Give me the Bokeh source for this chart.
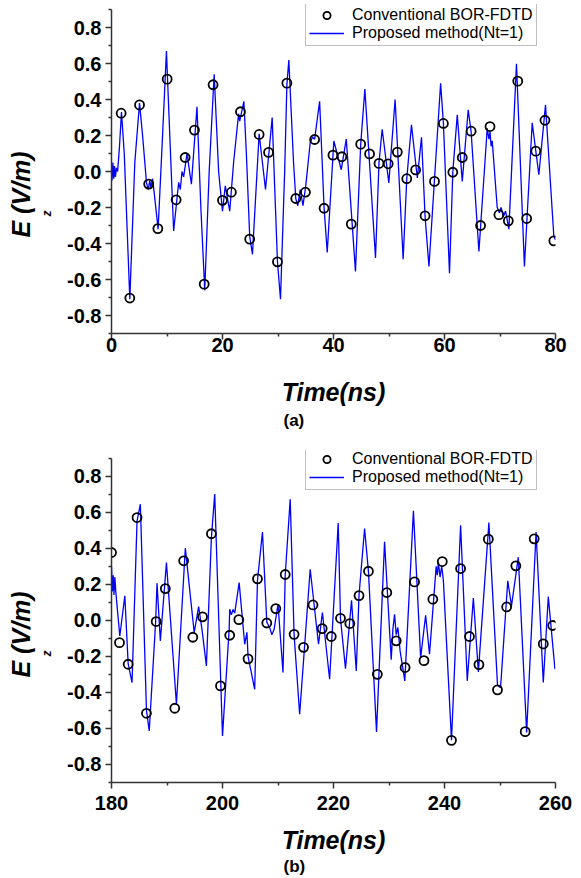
from bokeh.plotting import figure
from bokeh.models import Range1d, FixedTicker, Legend, LegendItem, Title
from bokeh.layouts import column
from bokeh.embed import file_html
from bokeh.resources import INLINE

# ---------------- Panel (a) data ----------------
a_circle_t = [1.74, 3.3, 5.05, 6.7, 8.35, 10.03, 11.65, 13.27, 14.95, 16.7, 18.3, 20.0,
              21.6, 23.24, 24.9, 26.6, 28.3, 29.9, 31.6, 33.2, 34.95, 36.6, 38.3, 39.9,
              41.5, 43.2, 44.9, 46.5, 48.2, 49.85, 51.5, 53.2, 54.8, 56.5, 58.2, 59.8,
              61.5, 63.2, 64.8, 66.5, 68.2, 69.8, 71.5, 73.2, 74.8, 76.45, 78.1, 79.7]
a_circle_y = [0.324, -0.703, 0.37, -0.07, -0.317, 0.513, -0.157, 0.078, 0.23, -0.626, 0.482, -0.16,
              -0.115, 0.332, -0.376, 0.206, 0.106, -0.502, 0.491, -0.15, -0.115, 0.178, -0.204, 0.091,
              0.082, -0.292, 0.152, 0.098, 0.045, 0.043, 0.108, -0.04, 0.009, -0.246, -0.055, 0.267,
              -0.004, 0.078, 0.224, -0.3, 0.25, -0.24, -0.274, 0.502, -0.261, 0.113, 0.285, -0.385]

a_line_t = [0.0, 0.1, 0.25, 0.4, 0.55, 0.7, 0.9, 1.1, 1.4, 1.8, 2.3, 3.3, 4.2, 5.05, 5.6,
            6.3, 6.6, 6.9, 7.1, 7.4, 7.7, 8.4, 9.2, 9.9, 10.5, 11.2, 11.8, 12.1, 12.4, 12.7,
            13.0, 13.6, 14.4, 15.4, 16.1, 16.8, 17.6, 18.5, 19.3, 20.0, 20.5, 21.3, 22.0,
            22.9, 23.1, 23.85, 24.3, 24.9, 25.4, 26.6, 27.75, 28.95, 29.3, 29.9, 30.45, 31.2,
            31.6, 31.95, 32.8, 33.2, 33.57, 34.0, 34.5, 35.0, 35.8, 36.2, 36.6, 37.5, 38.3,
            38.87, 40.06, 41.4, 42.3, 43.96, 44.9, 45.65, 47.57, 48.2, 48.77, 49.97, 51.1,
            52.55, 53.2, 54.05, 55.1, 55.86, 56.5, 57.2, 59.3, 59.8, 60.9, 61.5, 62.3, 63.2,
            64.27, 64.8, 66.2, 67.7, 68.0, 68.2, 68.4, 68.6, 69.5, 69.9, 70.2, 70.6, 71.0,
            71.6, 72.97, 74.4, 75.8, 77.0, 78.2, 79.7, 80.0]
a_line_y = [0.02, -0.05, 0.05, -0.04, 0.03, -0.03, 0.02, 0.0, 0.12, 0.33, 0.1, -0.71, 0.05, 0.38, 0.2,
            -0.06, -0.1, -0.05, -0.09, -0.04, -0.12, -0.32, 0.2, 0.67, 0.2, -0.33, -0.15, -0.06, -0.1, 0.0,
            -0.03, 0.1, -0.07, 0.36, -0.2, -0.66, 0.0, 0.54, 0.0, -0.22, -0.08, -0.22, 0.05,
            0.32, 0.28, 0.39, 0.1, -0.36, -0.46, 0.21, -0.1, 0.3, 0.0, -0.5, -0.71, 0.0,
            0.48, 0.62, 0.05, -0.15, -0.19, -0.1, -0.19, -0.08, 0.16, 0.19, 0.18, 0.39, -0.2,
            -0.45, 0.17, 0.01, 0.18, -0.555, 0.15, 0.458, -0.48, 0.05, 0.235, -0.064, 0.4,
            -0.487, -0.04, 0.26, -0.036, 0.19, -0.25, -0.527, 0.49, 0.27, -0.565, 0.0, 0.315, -0.055,
            0.343, 0.22, -0.444, 0.24, 0.18, 0.22, 0.14, 0.17, -0.2, -0.23, -0.2, -0.25, -0.22,
            -0.32, 0.598, -0.527, 0.27, -0.018, 0.37, -0.36, -0.38]

# ---------------- Panel (b) data ----------------
b_circle_t = [180.0, 181.44, 183.0, 184.6, 186.3, 188.05, 189.7, 191.4, 193.0, 194.65, 196.4, 198.0,
              199.64, 201.3, 202.94, 204.6, 206.3, 207.98, 209.6, 211.3, 212.9, 214.6, 216.3, 217.96,
              219.6, 221.26, 222.94, 224.6, 226.3, 227.9, 229.6, 231.3, 232.9, 234.6, 236.3, 237.9,
              239.6, 241.26, 242.9, 244.5, 246.2, 247.9, 249.55, 251.2, 252.85, 254.54, 256.16, 257.8,
              259.5]
b_circle_y = [0.376, -0.124, -0.244, 0.57, -0.516, -0.007, 0.176, -0.488, 0.33, -0.094, 0.019, 0.48,
              -0.364, -0.083, 0.004, -0.214, 0.23, -0.015, 0.065, 0.254, -0.078, -0.15, 0.085, -0.046,
              -0.09, 0.011, -0.018, 0.137, 0.272, -0.3, 0.154, -0.114, -0.262, 0.213, -0.224, 0.117,
              0.326, -0.666, 0.287, -0.09, -0.246, 0.45, -0.386, 0.074, 0.302, -0.618, 0.452, -0.131,
              -0.029]

b_line_t = [180.0, 180.15, 180.3, 180.45, 180.6, 180.8, 181.0, 181.5, 182.4, 183.0, 183.7, 184.6, 185.2,
            186.3, 186.8, 187.95, 188.2, 188.8, 189.9, 191.7, 193.3, 194.9, 195.7, 196.3, 197.1,
            198.0, 198.6, 200.0, 201.2, 201.3, 201.6, 201.9, 202.2, 203.0, 204.0, 204.4, 204.6, 205.8,
            206.3, 207.2, 207.98, 208.5, 208.9, 209.3, 210.0, 210.9, 211.3, 212.2, 212.9, 213.9,
            215.8, 217.3, 218.0, 219.3, 220.85, 221.26, 222.16, 223.25, 224.1, 224.6, 225.6, 226.3,
            227.75, 229.2, 230.4, 230.7, 231.0, 231.3, 231.6, 232.0, 232.85, 234.4, 235.7, 236.6,
            237.3, 238.5, 238.7, 238.9, 239.2, 239.5, 239.8, 241.26, 242.9, 244.1, 245.2, 246.1,
            248.0, 249.55, 250.1, 251.4, 252.07, 253.3, 254.8, 256.5, 257.8, 258.7, 259.9]
b_line_y = [0.30, 0.16, 0.25, 0.14, 0.24, 0.15, 0.08, -0.087, 0.136, -0.24, -0.346, 0.55, 0.644,
            -0.5, -0.614, -0.01, 0.206, -0.114, 0.32, -0.466, 0.4, -0.068, 0.076, -0.05, -0.253,
            0.46, 0.7, -0.642, -0.05, 0.061, 0.03, 0.06, 0.04, 0.209, -0.133, -0.067, -0.2, -0.383,
            0.22, 0.49, -0.01, -0.041, -0.08, -0.05, 0.089, -0.29, 0.25, 0.672, -0.08, -0.521,
            0.283, -0.133, 0.043, -0.327, 0.54, 0.01, -0.268, 0.111, -0.281, 0.14, 0.509, 0.27,
            -0.619, 0.435, -0.219, -0.05, 0.033, -0.08, -0.04, -0.17, -0.336, 0.607, -0.207, 0.028,
            -0.188, 0.3, 0.25, 0.32, 0.24, 0.3, 0.22, -0.666, 0.527, -0.336, 0.124, -0.286,
            0.542, -0.36, -0.374, 0.219, 0.08, 0.35, -0.623, 0.49, -0.345, 0.131, -0.271]

y_ticks = [-0.8, -0.6, -0.4, -0.2, 0.0, 0.2, 0.4, 0.6, 0.8]
y_tick_labels = ["-0.8", "-0.6", "-0.4", "-0.2", "0.0", "0.2", "0.4", "0.6", "0.8"]
y_minor = [-0.9, -0.7, -0.5, -0.3, -0.1, 0.1, 0.3, 0.5, 0.7, 0.9]
a_x_ticks = [0, 20, 40, 60, 80]
a_x_minor = [10, 30, 50, 70]
b_x_ticks = [180, 200, 220, 240, 260]
b_x_minor = [190, 210, 230, 250]

legend_names = ["Conventional BOR-FDTD", "Proposed method(Nt=1)"]
x_title = "Time(ns)"
y_title_main = "E (V/m)"
y_title_sub = "z"

FONT = "Liberation Sans"
AXIS_COLOR = "#333333"


def make_panel(x0, x1, ct, cy, lt, ly, xticks, xminor, fig_h, top, frame_h, y_top,
               label_standoff, title_standoff, legend_vy, panel_tag, e_offset, tag_standoff):
    bottom = fig_h - top - frame_h
    p = figure(width=575, height=fig_h, output_backend="svg", toolbar_location=None,
               x_range=Range1d(x0, x1), y_range=Range1d(-0.9, y_top),
               min_border_left=111, min_border_right=20, min_border_top=top,
               min_border_bottom=bottom, title=None)
    p.outline_line_color = None
    p.grid.visible = False
    p.background_fill_color = "white"

    ln = p.line(lt, ly, line_color="#0000FF", line_width=1.3)
    sc = p.scatter(ct, cy, marker="circle", size=9, fill_color=None,
                   line_color="black", line_width=1.8)

    xa = p.xaxis[0]
    xa.ticker = FixedTicker(ticks=xticks, minor_ticks=xminor)
    xa.axis_label = x_title
    xa.axis_label_text_font = FONT
    xa.axis_label_text_font_style = "bold italic"
    xa.axis_label_text_font_size = "25px"
    xa.axis_label_text_color = "black"
    xa.axis_label_standoff = title_standoff
    xa.major_label_standoff = label_standoff
    xa.major_label_text_font = FONT
    xa.major_label_text_font_style = "bold"
    xa.major_label_text_font_size = "20px"
    xa.major_label_text_color = "black"

    ya = p.yaxis[0]
    ya.ticker = FixedTicker(ticks=y_ticks, minor_ticks=y_minor)
    ya.bounds = (-0.9, 0.9)
    ya.major_label_overrides = {t: s for t, s in zip(y_ticks, y_tick_labels)}
    ya.major_label_standoff = 4
    ya.major_label_text_font = FONT
    ya.major_label_text_font_style = "bold"
    ya.major_label_text_font_size = "20px"
    ya.major_label_text_color = "black"

    for ax in (xa, ya):
        ax.axis_line_color = AXIS_COLOR
        ax.axis_line_width = 1.5
        ax.major_tick_line_color = AXIS_COLOR
        ax.major_tick_line_width = 1.5
        ax.minor_tick_line_color = AXIS_COLOR
        ax.minor_tick_line_width = 1.5
        ax.major_tick_in = 0
        ax.minor_tick_in = 0
        ax.major_tick_out = 6
        ax.minor_tick_out = 3

    legend = Legend(items=[LegendItem(label=legend_names[0], renderers=[sc]),
                           LegendItem(label=legend_names[1], renderers=[ln])],
                    location=(194, legend_vy), orientation="vertical",
                    label_text_font=FONT, label_text_font_size="16px",
                    label_text_color="black", glyph_width=35, glyph_height=18,
                    label_height=18, label_standoff=8, padding=3, spacing=0,
                    margin=0, border_line_color="#808080", border_line_width=1,
                    background_fill_color="white", background_fill_alpha=1.0)
    p.add_layout(legend)

    # y-axis title: subscript panel next to the axis, main text further out
    p.add_layout(Title(text=y_title_sub, align="left", offset=e_offset + 21, standoff=21,
                       text_font=FONT, text_font_style="bold italic", text_font_size="12px",
                       text_color="black"), "left")
    p.add_layout(Title(text=y_title_main, align="left", offset=e_offset, standoff=-15,
                       text_font=FONT, text_font_style="bold italic", text_font_size="25px",
                       text_color="black"), "left")
    # panel tag below the x-axis title
    p.add_layout(Title(text=panel_tag, align="left", offset=172, standoff=tag_standoff,
                       text_font=FONT, text_font_style="bold", text_font_size="17px",
                       text_color="black"), "below")
    return p


pa = make_panel(0, 80, a_circle_t, a_circle_y, a_line_t, a_line_y, a_x_ticks, a_x_minor,
                fig_h=440, top=4, frame_h=329, y_top=0.928,
                label_standoff=-2, title_standoff=23, legend_vy=287, panel_tag="(a)",
                e_offset=96, tag_standoff=0)
pb = make_panel(180, 260, b_circle_t, b_circle_y, b_line_t, b_line_y, b_x_ticks, b_x_minor,
                fig_h=438, top=10, frame_h=332, y_top=0.942,
                label_standoff=7, title_standoff=13, legend_vy=292, panel_tag="(b)",
                e_offset=105, tag_standoff=-3)

layout = column(pa, pb, spacing=0)
open("out.html", "w").write(file_html(layout, INLINE))
